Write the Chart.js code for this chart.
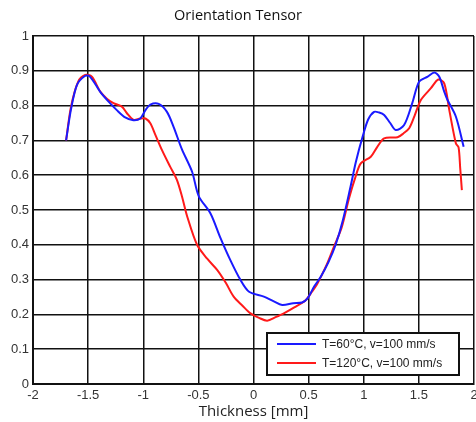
<!DOCTYPE html>
<html>
<head>
<meta charset="utf-8">
<script src="https://cdn.jsdelivr.net/npm/chart.js@4.4.1/dist/chart.umd.min.js"></script>
<style>
  html, body { margin: 0; padding: 0; background: #fff; }
  #wrap { width: 476px; height: 422px; }
</style>
</head>
<body>
<div id="wrap"><canvas id="chart-orientation"></canvas></div>
<script>
// T=60°C, v=100 mm/s
const thickness_60 = [-1.70, -1.655, -1.60, -1.53, -1.49, -1.436, -1.38, -1.31, -1.24, -1.164, -1.09, -1.027,
  -0.98, -0.936, -0.86, -0.785, -0.725, -0.65, -0.557, -0.497, -0.39, -0.30, -0.21, -0.12, -0.04,
  0.094, 0.18, 0.26, 0.36, 0.44, 0.49, 0.55, 0.61, 0.68, 0.745, 0.81, 0.88, 0.93, 0.99, 1.04,
  1.094, 1.14, 1.185, 1.24, 1.29, 1.366, 1.44, 1.503, 1.58, 1.64, 1.685, 1.73, 1.76, 1.836, 1.906];
const tensor_60 = [0.70, 0.79, 0.86, 0.885, 0.885, 0.862, 0.835, 0.81, 0.787, 0.766, 0.758, 0.763,
  0.787, 0.803, 0.805, 0.782, 0.739, 0.675, 0.61, 0.54, 0.49, 0.42, 0.356, 0.30, 0.265,
  0.251, 0.238, 0.227, 0.232, 0.234, 0.246, 0.28, 0.308, 0.35, 0.40, 0.47, 0.567, 0.64, 0.711, 0.76,
  0.782, 0.78, 0.773, 0.75, 0.73, 0.744, 0.807, 0.869, 0.883, 0.895, 0.883, 0.84, 0.816, 0.768, 0.682];

// T=120°C, v=100 mm/s
const thickness_120 = [-1.70, -1.655, -1.59, -1.527, -1.466, -1.39, -1.33, -1.27, -1.194, -1.148, -1.088, -1.027,
  -0.98, -0.936, -0.89, -0.83, -0.755, -0.694, -0.648, -0.60, -0.512, -0.42, -0.33, -0.25, -0.18,
  -0.10, -0.027, 0.05, 0.124, 0.20, 0.275, 0.37, 0.473, 0.53, 0.58, 0.66, 0.73, 0.80, 0.866, 0.92,
  0.973, 1.064, 1.12, 1.185, 1.306, 1.36, 1.412, 1.46, 1.518, 1.609, 1.676, 1.73, 1.776, 1.836, 1.86,
  1.875, 1.89];
const tensor_120 = [0.70, 0.797, 0.869, 0.888, 0.883, 0.84, 0.82, 0.807, 0.797, 0.778, 0.759, 0.763,
  0.763, 0.749, 0.716, 0.672, 0.624, 0.586, 0.538, 0.48, 0.40, 0.36, 0.328, 0.29, 0.251,
  0.225, 0.203, 0.19, 0.182, 0.192, 0.203, 0.22, 0.241, 0.265, 0.289, 0.34, 0.395, 0.45, 0.533, 0.59,
  0.634, 0.653, 0.68, 0.706, 0.709, 0.72, 0.735, 0.77, 0.816, 0.85, 0.875, 0.864, 0.787, 0.691, 0.68,
  0.62, 0.557];

const series_labels = ['T=60°C, v=100 mm/s', 'T=120°C, v=100 mm/s'];
const series_colors = ['#1a1aff', '#ff1a1a'];

function toPoints(xs, ys) {
  return xs.map((x, i) => ({ x: x, y: ys[i] }));
}

// legend drawn as a boxed panel inside the plot area (bottom right)
const boxLegend = {
  id: 'boxLegend',
  afterDatasetsDraw(chart) {
    const { ctx, chartArea } = chart;
    const right = chartArea.right - 15;
    const bottom = chartArea.bottom - 9;
    const w = 192, h = 42;
    const left = right - w, top = bottom - h;
    ctx.save();
    ctx.fillStyle = '#fff';
    ctx.fillRect(left, top, w, h);
    ctx.strokeStyle = '#111';
    ctx.lineWidth = 2;
    ctx.strokeRect(left, top, w, h);
    ctx.font = '12px "Liberation Sans", Arial, sans-serif';
    ctx.textBaseline = 'middle';
    ctx.textAlign = 'left';
    chart.data.datasets.forEach((ds, i) => {
      const y = top + 11 + i * 19;
      ctx.strokeStyle = ds.borderColor;
      ctx.lineWidth = 2;
      ctx.beginPath();
      ctx.moveTo(left + 10, y);
      ctx.lineTo(left + 49, y);
      ctx.stroke();
      ctx.fillStyle = '#222';
      ctx.fillText(ds.label, left + 55, y + 1);
    });
    ctx.restore();
  }
};

const ctx = document.getElementById('chart-orientation');
new Chart(ctx, {
  type: 'scatter',
  plugins: [boxLegend],
  data: {
    datasets: [
      {
        label: series_labels[0],
        data: toPoints(thickness_60, tensor_60),
        borderColor: series_colors[0],
        backgroundColor: series_colors[0],
        showLine: true,
        borderWidth: 2,
        pointRadius: 0,
        tension: 0.3
      },
      {
        label: series_labels[1],
        data: toPoints(thickness_120, tensor_120),
        borderColor: series_colors[1],
        backgroundColor: series_colors[1],
        showLine: true,
        borderWidth: 2,
        pointRadius: 0,
        tension: 0.3
      }
    ]
  },
  options: {
    responsive: true,
    maintainAspectRatio: false,
    animation: false,
    layout: { padding: 0 },
    scales: {
      x: {
        type: 'linear',
        min: -2,
        max: 2,
        afterFit: function (scale) {
          scale.height = 38;
          // the last tick label is allowed to run off the edge, as in the original
          scale.paddingRight = 2;
          scale.paddingLeft = 0;
        },
        ticks: {
          stepSize: 0.5,
          padding: 4,
          color: '#333',
          font: { family: '"Liberation Sans", Arial, sans-serif', size: 13 },
          maxRotation: 0,
          callback: v => String(v)
        },
        grid: { color: '#111', lineWidth: 1.5, drawTicks: false },
        border: { color: '#111', width: 2 },
        title: {
          display: true,
          text: 'Thickness [mm]',
          color: '#222',
          font: { family: '"Open Sans", sans-serif', size: 15 },
          padding: { top: 0, bottom: 1 }
        }
      },
      y: {
        type: 'linear',
        min: 0,
        max: 1,
        afterFit: function (scale) { scale.width = 33; },
        ticks: {
          stepSize: 0.1,
          padding: 4,
          color: '#333',
          font: { family: '"Liberation Sans", Arial, sans-serif', size: 13 },
          callback: v => String(Math.round(v * 10) / 10)
        },
        grid: { color: '#111', lineWidth: 1.5, drawTicks: false },
        border: { color: '#111', width: 2 }
      }
    },
    plugins: {
      legend: { display: false },
      tooltip: { enabled: false },
      title: {
        display: true,
        text: 'Orientation Tensor',
        color: '#111',
        font: { family: '"Open Sans", sans-serif', size: 14.5, weight: 'normal' },
        padding: { top: 7, bottom: 11.6 }
      }
    }
  }
});
</script>
</body>
</html>
